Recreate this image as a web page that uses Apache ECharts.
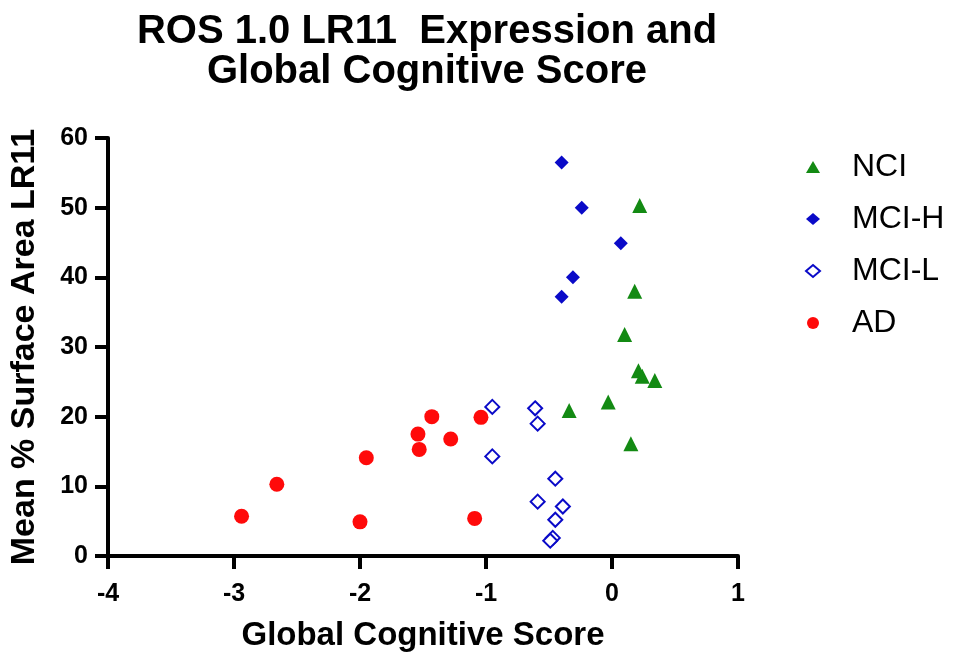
<!DOCTYPE html>
<html><head><meta charset="utf-8">
<script src="https://cdn.jsdelivr.net/npm/echarts@6/dist/echarts.min.js"></script>
<style>html,body{margin:0;padding:0;background:#fff}#c{width:953px;height:653px}</style>
</head><body><div id="c"></div>
<script>
const nciX = [0.22, 0.18, 0.10, 0.21, 0.24, 0.34, -0.03, -0.34, 0.15];
const nciY = [50.3, 38.0, 31.8, 26.6, 25.8, 25.2, 22.1, 20.9, 16.1];
const mciHX = [-0.40, -0.24, 0.07, -0.31, -0.40];
const mciHY = [56.5, 50.0, 44.9, 40.0, 37.2];
const mciLX = [-0.95, -0.61, -0.59, -0.95, -0.45, -0.59, -0.39, -0.45, -0.47, -0.49];
const mciLY = [21.4, 21.2, 19.0, 14.3, 11.1, 7.8, 7.1, 5.2, 2.6, 2.2];
const adX = [-2.94, -2.66, -2.00, -1.95, -1.54, -1.53, -1.43, -1.28, -1.04, -1.09];
const adY = [5.7, 10.3, 4.9, 14.1, 17.5, 15.3, 20.0, 16.8, 19.9, 5.4];
const xTicks = [-4, -3, -2, -1, 0, 1];
const yTicks = [0, 10, 20, 30, 40, 50, 60];
const seriesNames = ['NCI', 'MCI-H', 'MCI-L', 'AD'];

const zip = (xs, ys) => xs.map((x, i) => [x, ys[i]]);
const FONT = 'Liberation Sans, Arial, sans-serif';
const chart = echarts.init(document.getElementById('c'));
chart.setOption({
  animation: false,
  title: {
    text: 'ROS 1.0 LR11  Expression and\nGlobal Cognitive Score',
    left: 422, top: 7, textAlign: 'center',
    textStyle: { fontFamily: FONT, fontWeight: 'bold', fontSize: 40, lineHeight: 40, color: '#000' }
  },
  legend: {
    orient: 'vertical', left: 800, top: 146, itemGap: 20,
    itemWidth: 14, itemHeight: 12,
    textStyle: { fontFamily: FONT, fontSize: 32, lineHeight: 32, color: '#000', padding: [0, 0, 0, 27] },
    data: seriesNames
  },
  grid: { left: 108, right: 215, top: 138, bottom: 97, containLabel: false, outerBoundsMode: 'none' },
  xAxis: {
    type: 'value', min: xTicks[0], max: xTicks[xTicks.length - 1], interval: 1,
    name: 'Global Cognitive Score', nameLocation: 'middle', nameGap: 63,
    nameTextStyle: { fontFamily: FONT, fontWeight: 'bold', fontSize: 33, color: '#000' },
    axisLine: { onZero: false, lineStyle: { color: '#000', width: 4 } },
    axisTick: { length: 13, lineStyle: { color: '#000', width: 4 } },
    axisLabel: { fontFamily: FONT, fontWeight: 'bold', fontSize: 25, color: '#000', margin: 26 },
    splitLine: { show: false }
  },
  yAxis: {
    type: 'value', min: yTicks[0], max: yTicks[yTicks.length - 1], interval: 10,
    name: 'Mean % Surface Area LR11', nameLocation: 'middle', nameGap: 66, nameRotate: 90,
    nameTextStyle: { fontFamily: FONT, fontWeight: 'bold', fontSize: 34, color: '#000' },
    axisLine: { show: true, onZero: false, lineStyle: { color: '#000', width: 4 } },
    axisTick: { show: true, length: 13, lineStyle: { color: '#000', width: 4 } },
    axisLabel: { fontFamily: FONT, fontWeight: 'bold', fontSize: 25, color: '#000', margin: 20 },
    splitLine: { show: false }
  },
  series: [
    { name: 'NCI', type: 'scatter', symbol: 'triangle', symbolSize: 15,
      itemStyle: { color: '#138a13', opacity: 1 }, data: zip(nciX, nciY) },
    { name: 'MCI-H', type: 'scatter', symbol: 'diamond', symbolSize: 14,
      itemStyle: { color: '#0a0ac8', opacity: 1 }, data: zip(mciHX, mciHY) },
    { name: 'MCI-L', type: 'scatter', symbol: 'diamond', symbolSize: 14,
      itemStyle: { color: '#ffffff', borderColor: '#0a0ac8', borderWidth: 2, opacity: 1 }, data: zip(mciLX, mciLY) },
    { name: 'AD', type: 'scatter', symbol: 'circle', symbolSize: 15,
      itemStyle: { color: '#ff0a0a', opacity: 1 }, data: zip(adX, adY) }
  ]
});
</script></body></html>
